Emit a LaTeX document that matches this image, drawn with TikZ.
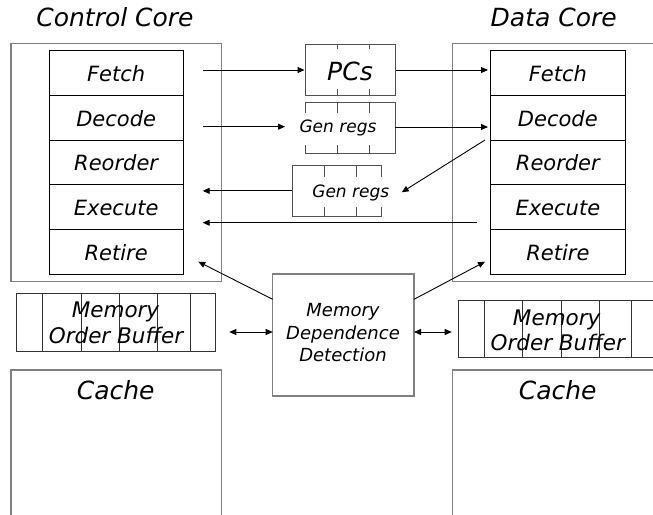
\documentclass[tikz,border=0pt]{standalone}
\usepackage{fontspec}
\setmainfont{DejaVu Sans}
\usetikzlibrary{arrows.meta}
\definecolor{framegray}{RGB}{128,128,128}
\definecolor{reggray}{RGB}{80,80,80}
\begin{document}
\begin{tikzpicture}[x=1pt,y=-1pt,
  outer/.style={draw=framegray,line width=1.3pt,inner sep=0pt},
  stagebox/.style={draw=black,line width=0.9pt,minimum width=134.3pt,minimum height=44.66pt,inner sep=0pt,
    font=\fontsize{21}{25}\selectfont\itshape,text height=17pt,text depth=0pt},
  title/.style={anchor=base,inner sep=0pt,font=\fontsize{25}{30}\selectfont\itshape},
  bigtext/.style={anchor=base,inner sep=0pt,font=\fontsize{25}{30}\selectfont\itshape},
  mobtext/.style={anchor=base,inner sep=0pt,font=\fontsize{21.5}{25}\selectfont\itshape},
  mddtext/.style={anchor=base,inner sep=0pt,font=\fontsize{18}{22}\selectfont\itshape},
  regbox/.style={draw=reggray,line width=1pt,inner sep=0pt},
  regline/.style={draw=reggray,line width=1pt},
  mobline/.style={draw=black!80,line width=0.9pt},
  reglabel/.style={anchor=base,fill=white,inner ysep=0pt,inner xsep=6pt,font=\fontsize{17}{20}\selectfont\itshape},
  arr/.style={draw=black,line width=0.9pt,-{Triangle[length=7pt,width=6pt]}},
  darr/.style={draw=black,line width=0.9pt,{Triangle[length=7pt,width=6pt]}-{Triangle[length=7pt,width=6pt]}}
]
\useasboundingbox (0,0) rectangle (653,514);
\clip (0,0) rectangle (653,514);

% titles
\node[title] (ctitle) at (115,27) {Control Core};
\node[title] (dtitle) at (553.7,27) {Data Core};

% core frames
\node[outer,minimum width=210.7pt,minimum height=238.4pt] (cc) at (116.35,162.5) {};
\node[outer,minimum width=210.7pt,minimum height=238.4pt] (dc) at (557.65,162.5) {};

% pipeline stages
\foreach \t [count=\i] in {Fetch,Decode,Reorder,Execute,Retire}{
  \node[stagebox] (c\i) at (116.15,{50.7+44.66*(\i-0.5)}) {\t};
  \node[stagebox] (d\i) at (557.85,{50.7+44.66*(\i-0.5)}) {\t};
}

% PCs register file
\node[regbox,minimum width=90pt,minimum height=51pt] (pcs) at (350,70) {};
\draw[regline] (337.3,44.5) -- (337.3,95.5) (369.3,44.5) -- (369.3,95.5);
\node[reglabel,inner xsep=5pt,text height=30.7pt,text depth=9.3pt,font=\fontsize{25}{30}\selectfont\itshape] (pcst) at (350,80) {PCs};

% upper Gen regs
\node[regbox,minimum width=90pt,minimum height=51.3pt] (g1) at (350,127.65) {};
\draw[regline] (337.7,102) -- (337.7,153.3) (369.3,102) -- (369.3,153.3);
\node[reglabel,text height=19pt,text depth=12.7pt] (g1t) at (338,132.3) {Gen regs};

% lower Gen regs
\node[regbox,minimum width=89.4pt,minimum height=51.7pt] (g2) at (337,190.85) {};
\draw[regline] (324.3,165) -- (324.3,216.7) (356,165) -- (356,216.7);
\node[reglabel,text height=20.3pt,text depth=9.3pt] (g2t) at (350.8,197.3) {Gen regs};

% Memory dependence detection
\node[outer,minimum width=141.3pt,minimum height=122pt] (mdd) at (343.35,335) {};
\node[mddtext] (mdd1) at (343,316.7) {Memory};
\node[mddtext] (mdd2) at (343,339.3) {Dependence};
\node[mddtext] (mdd3) at (343,361.7) {Detection};

% Memory order buffers
\node[draw=black!80,line width=0.9pt,minimum width=199pt,minimum height=57.7pt,inner sep=0pt] (mobl) at (116.2,322.15) {};
\foreach \x in {42.7,81,119.3,157.7,190}{\draw[mobline] (\x,293.3) -- (\x,351);}
\node[mobtext] (mobl1) at (115.5,317.3) {Memory};
\node[mobtext] (mobl2) at (116,343.3) {Order Buffer};

\node[draw=black!80,line width=0.9pt,minimum width=199pt,minimum height=57.3pt,inner sep=0pt] (mobr) at (557.8,328.65) {};
\foreach \x in {484.3,522.3,561,599.3,631.7}{\draw[mobline] (\x,300) -- (\x,357.3);}
\node[mobtext] (mobr1) at (556.7,325) {Memory};
\node[mobtext] (mobr2) at (557.8,350) {Order Buffer};

% caches (open at the bottom)
\draw[draw=framegray,line width=1.3pt] (11,520) -- (11,370) -- (221.7,370) -- (221.7,520);
\draw[draw=framegray,line width=1.3pt] (452.3,520) -- (452.3,370) -- (663,370) -- (663,520);
\node[bigtext] (cachel) at (115.7,399) {Cache};
\node[bigtext] (cacher) at (557.7,399) {Cache};

% connector end points
\coordinate (s1) at (203,70);
\coordinate (e2) at (488,70);
\coordinate (s3) at (203,126.7);
\coordinate (e3) at (285,126.7);
\coordinate (s4) at (395,127);
\coordinate (e4) at (488,127);
\coordinate (s5) at (485,140);
\coordinate (e5) at (401.7,192.3);
\coordinate (e6) at (202.7,190.85);
\coordinate (s7) at (477.3,222.7);
\coordinate (e7) at (202.7,222.7);
\coordinate (s8) at (272.7,299.3);
\coordinate (e8) at (198.3,261.7);
\coordinate (s9) at (414,299.3);
\coordinate (e9) at (485,261.7);
\coordinate (l10) at (229.3,332);
\coordinate (r10) at (272.7,332);
\coordinate (l11) at (414,332);
\coordinate (r11) at (451.7,332);

% connectors
\draw[arr] (s1) -- (pcs.west);
\draw[arr] (pcs.east) -- (e2);
\draw[arr] (s3) -- (e3);
\draw[arr] (s4) -- (e4);
\draw[arr] (s5) -- (e5);
\draw[arr] (g2.west) -- (e6);
\draw[arr] (s7) -- (e7);
\draw[arr] (s8) -- (e8);
\draw[arr] (s9) -- (e9);
\draw[darr] (l10) -- (r10);
\draw[darr] (l11) -- (r11);
\end{tikzpicture}
\end{document}
